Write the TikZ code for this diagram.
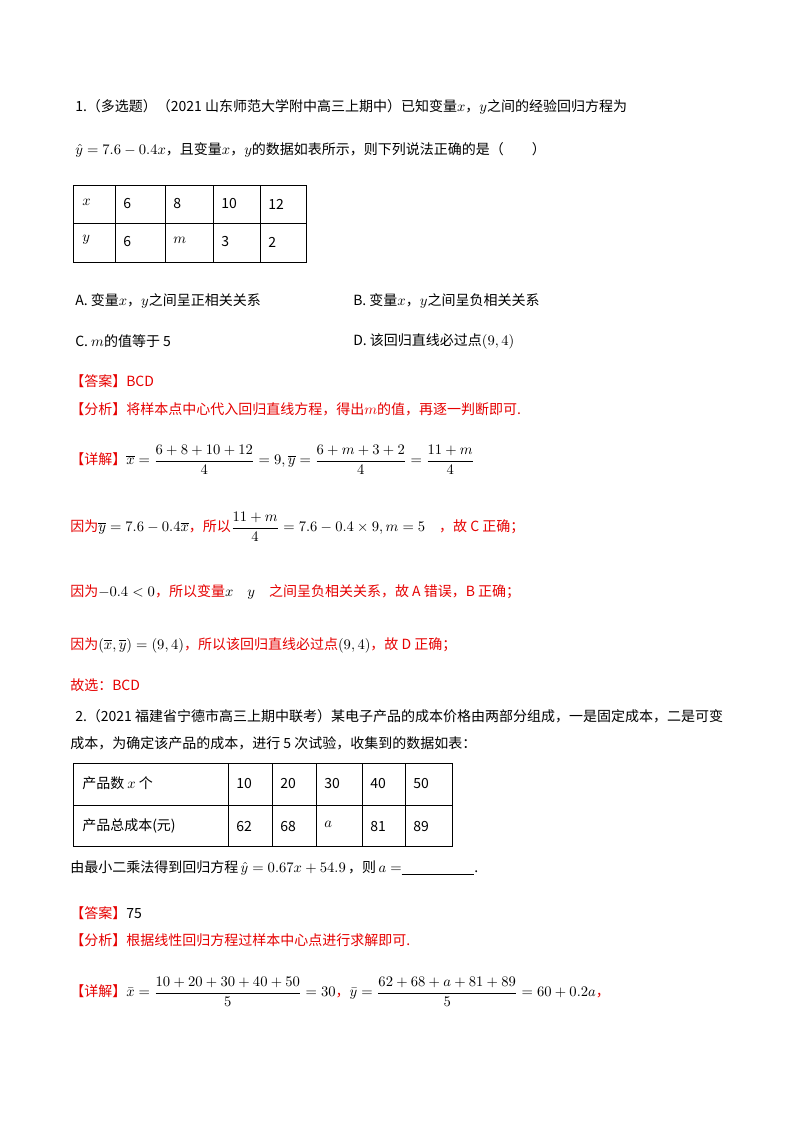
\documentclass[tikz,border=0pt]{standalone}
\usepackage{fontspec}
\usepackage{amsmath}
\setmainfont{Noto Sans CJK SC}
\definecolor{ans}{RGB}{230,0,0}
\begin{document}
\begin{tikzpicture}[x=0.75pt,y=-0.75pt,
  t/.style={anchor=west,inner sep=0pt,font=\fontsize{10.5}{12}\selectfont},
  r/.style={t,text=ans},
  cell/.style={anchor=west,inner sep=0pt,font=\fontsize{10.5}{12}\selectfont}]
\useasboundingbox (0,0) rectangle (800,1132);
\fill[white] (0,0) rectangle (800,1132);
\node[t] (l1) at (75,107) {1.（多选题）（2021 山东师范大学附中高三上期中）已知变量$x$，$y$之间的经验回归方程为};
\node[t] (l2) at (75,150) {$\hat{y}=7.6-0.4x$，且变量$x$，$y$的数据如表所示，则下列说法正确的是（\quad\quad）};
% table 1
\draw (73,185) rectangle (306,262);
\draw (73,223) -- (306,223);
\foreach \xx in {115,165,213,260} \draw (\xx,185) -- (\xx,262);
\node[cell] (a1) at (82,202) {$x$};
\node[cell] (a2) at (123,204) {6};
\node[cell] (a3) at (173,204) {8};
\node[cell] (a4) at (221,204) {10};
\node[cell] (a5) at (268,204) {12};
\node[cell] (b1) at (82,240) {$y$};
\node[cell] (b2) at (123,242) {6};
\node[cell] (b3) at (173,240) {$m$};
\node[cell] (b4) at (221,242) {3};
\node[cell] (b5) at (268,242) {2};
\node[t] (oa) at (75,301) {A.\ 变量$x$，$y$之间呈正相关关系};
\node[t] (ob) at (353,301) {B.\ 变量$x$，$y$之间呈负相关关系};
\node[t] (oc) at (75,341) {C.\ $m$的值等于 5};
\node[t] (od) at (353,341) {D.\ 该回归直线必过点$\left(9,4\right)$};
\node[r] (an) at (70,381) {【答案】BCD};
\node[r] (fx) at (70,409) {【分析】将样本点中心代入回归直线方程，得出$m$的值，再逐一判断即可.};
\node[r] (xj) at (70,460) {【详解】\textcolor{black}{$\overline{x}=\dfrac{6+8+10+12}{4}=9,\overline{y}=\dfrac{6+m+3+2}{4}=\dfrac{11+m}{4}$}};
\node[r] (y1) at (70,527) {因为\textcolor{black}{$\overline{y}=7.6-0.4\overline{x}$}，所以\textcolor{black}{$\dfrac{11+m}{4}=7.6-0.4\times 9,m=5$}\quad ，故 C 正确；};
\node[r] (y2) at (70,592) {因为\textcolor{black}{$-0.4<0$}，所以变量\textcolor{black}{$x$}\quad \textcolor{black}{$y$}\quad 之间呈负相关关系，故 A 错误，B 正确；};
\node[r] (y3) at (70,645) {因为\textcolor{black}{$(\overline{x},\overline{y})=(9,4)$}，所以该回归直线必过点\textcolor{black}{$\left(9,4\right)$}，故 D 正确；};
\node[r] (gx) at (70,685) {故选：BCD};
\node[t] (q2) at (75,716) {2.（2021 福建省宁德市高三上期中联考）某电子产品的成本价格由两部分组成，一是固定成本，二是可变};
\node[t] (q2b) at (70,743) {成本，为确定该产品的成本，进行 5 次试验，收集到的数据如表：};
% table 2
\draw (73,763) rectangle (452,846);
\draw (73,805) -- (452,805);
\foreach \xx in {228,272,316,362,405} \draw (\xx,763) -- (\xx,846);
\node[cell] (c1) at (82,783) {产品数 $x$ 个};
\node[cell] (c2) at (236,783) {10};
\node[cell] (c3) at (280,783) {20};
\node[cell] (c4) at (324,783) {30};
\node[cell] (c5) at (370,783) {40};
\node[cell] (c6) at (413,783) {50};
\node[cell] (d1) at (82,826) {产品总成本(元)};
\node[cell] (d2) at (236,826) {62};
\node[cell] (d3) at (280,826) {68};
\node[cell] (d4) at (324,824) {$a$};
\node[cell] (d5) at (370,826) {81};
\node[cell] (d6) at (413,826) {89};
\node[t] (l3) at (70,868) {由最小二乘法得到回归方程\,$\hat{y}=0.67x+54.9$\,，则\,$a=$\underline{\hspace{5.2em}}.};
\node[r] (an2) at (70,913) {【答案】\textcolor{black}{75}};
\node[r] (fx2) at (70,940) {【分析】根据线性回归方程过样本中心点进行求解即可.};
\node[r] (xj2) at (70,992) {【详解】\textcolor{black}{$\bar{x}=\dfrac{10+20+30+40+50}{5}=30$}，\textcolor{black}{$\bar{y}=\dfrac{62+68+a+81+89}{5}=60+0.2a$}，};
\end{tikzpicture}
\end{document}
